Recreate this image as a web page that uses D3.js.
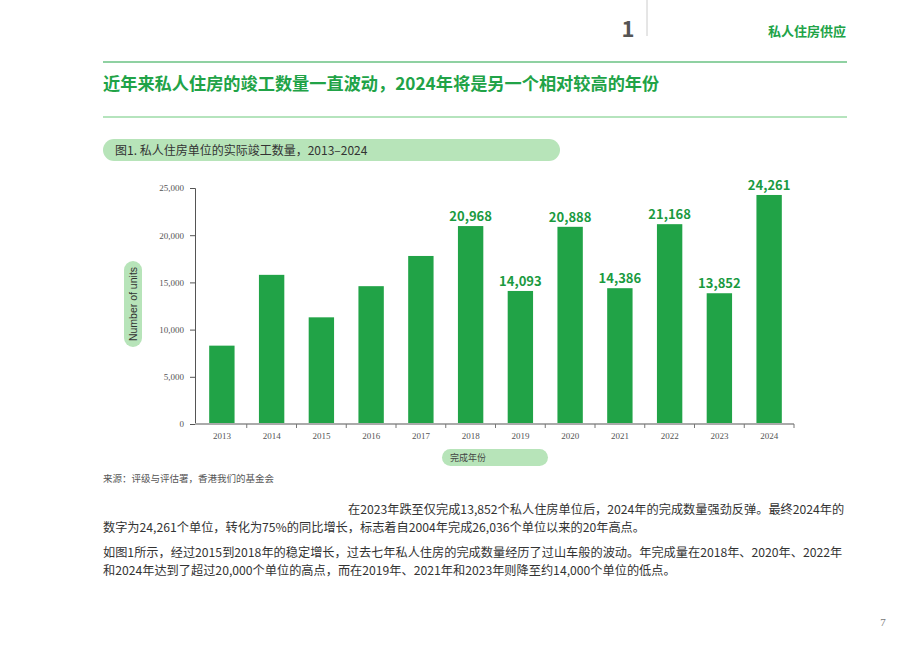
<!DOCTYPE html>
<html>
<head>
<meta charset="utf-8">
<script src="https://cdn.jsdelivr.net/npm/d3@7"></script>
<style>
  body { margin: 0; background: #fff; }
  svg { display: block; }
</style>
</head>
<body>
<script>
var years = ["2013","2014","2015","2016","2017","2018","2019","2020","2021","2022","2023","2024"];
var units = [8300, 15800, 11300, 14600, 17800, 20968, 14093, 20888, 14386, 21168, 13852, 24261];
var labelled = ["2018","2019","2020","2021","2022","2023","2024"];
var yTicks = [0, 5000, 10000, 15000, 20000, 25000];

var green = "#21a347";
var pill = "#b7e4b9";
var cjk = "'Noto Sans CJK SC', 'Noto Sans', sans-serif";
var serif = "'Liberation Serif', 'DejaVu Serif', serif";

var svg = d3.select("body").append("svg")
    .attr("width", 920)
    .attr("height", 648);

// page header
svg.append("line").attr("x1", 647).attr("x2", 647).attr("y1", 0).attr("y2", 36)
    .attr("stroke", "#ccc").attr("stroke-width", 1);
svg.append("text").attr("x", 628).attr("y", 37).attr("text-anchor", "middle")
    .attr("font-family", cjk).attr("font-weight", "bold").attr("font-size", 22)
    .attr("fill", "#555").text("1");
svg.append("text").attr("x", 846).attr("y", 36).attr("text-anchor", "end")
    .attr("font-family", cjk).attr("font-weight", "bold").attr("font-size", 13)
    .attr("fill", green).text("私人住房供应");

svg.append("line").attr("x1", 103).attr("x2", 847).attr("y1", 62).attr("y2", 62)
    .attr("stroke", green).attr("stroke-width", 1.2);
svg.append("text").attr("x", 103).attr("y", 90)
    .attr("font-family", cjk).attr("font-weight", "bold").attr("font-size", 17.2)
    .attr("fill", green).text("近年来私人住房的竣工数量一直波动，2024年将是另一个相对较高的年份");
svg.append("line").attr("x1", 103).attr("x2", 847).attr("y1", 117).attr("y2", 117)
    .attr("stroke", "#6cc97c").attr("stroke-width", 1.2);

// figure title pill
svg.append("rect").attr("x", 103).attr("y", 139).attr("width", 457).attr("height", 22)
    .attr("rx", 11).attr("fill", pill);
svg.append("text").attr("x", 115).attr("y", 155)
    .attr("font-family", cjk).attr("font-size", 12).attr("fill", "#333")
    .text("图1. 私人住房单位的实际竣工数量，2013–2024");

// chart
var x = d3.scaleBand().domain(years).range([197, 794]).paddingInner(0.49).paddingOuter(0.245);
var y = d3.scaleLinear().domain([0, 25000]).range([424, 188]);

var yAxis = svg.append("g").attr("transform", "translate(195,0)")
    .call(d3.axisLeft(y).tickValues(yTicks).tickFormat(d3.format(",")).tickSize(5).tickPadding(6));
yAxis.select(".domain").attr("stroke", "#555");
yAxis.selectAll(".tick line").attr("stroke", "#555");
yAxis.selectAll("text").attr("font-family", serif).attr("font-size", 9).attr("fill", "#555");

svg.selectAll("rect.bar")
    .data(units)
    .enter()
    .append("rect")
    .attr("class", "bar")
    .attr("x", function(d, i){ return x(years[i]); })
    .attr("y", function(d){ return y(d); })
    .attr("width", x.bandwidth())
    .attr("height", function(d){ return y(0) - y(d); })
    .attr("fill", green);

svg.selectAll("text.val")
    .data(units.filter(function(d, i){ return labelled.indexOf(years[i]) >= 0; }))
    .enter()
    .append("text")
    .attr("class", "val")
    .attr("x", function(d){ return x(years[units.indexOf(d)]) + x.bandwidth() / 2; })
    .attr("y", function(d){ return y(d) - 5; })
    .attr("text-anchor", "middle")
    .attr("font-family", cjk).attr("font-weight", "bold").attr("font-size", 13)
    .attr("fill", "#1a9a3f")
    .text(function(d){ return d3.format(",")(d); });

// x axis: ticks sit between categories
var xAxis = svg.append("g").attr("transform", "translate(0,424)");
xAxis.append("line").attr("x1", 195).attr("x2", 794).attr("y1", 0).attr("y2", 0)
    .attr("stroke", "#aaa").attr("stroke-width", 2);
xAxis.selectAll("line.sep")
    .data(years)
    .enter()
    .append("line")
    .attr("class", "sep")
    .attr("x1", function(d){ return x(d) + x.bandwidth() / 2 + x.step() / 2; })
    .attr("x2", function(d){ return x(d) + x.bandwidth() / 2 + x.step() / 2; })
    .attr("y1", 0).attr("y2", 4)
    .attr("stroke", "#777");
xAxis.selectAll("text")
    .data(years)
    .enter()
    .append("text")
    .attr("x", function(d){ return x(d) + x.bandwidth() / 2; })
    .attr("y", 15)
    .attr("text-anchor", "middle")
    .attr("font-family", serif).attr("font-size", 9).attr("fill", "#555")
    .text(function(d){ return d; });

// axis title pills
svg.append("rect").attr("x", 124).attr("y", 261).attr("width", 18).attr("height", 86)
    .attr("rx", 9).attr("fill", pill);
svg.append("text").attr("transform", "translate(137,304) rotate(-90)")
    .attr("text-anchor", "middle")
    .attr("font-family", "'Liberation Sans', Arial, sans-serif").attr("font-size", 10.5)
    .attr("fill", "#333").text("Number of units");

svg.append("rect").attr("x", 442).attr("y", 449).attr("width", 106).attr("height", 17)
    .attr("rx", 8.5).attr("fill", pill);
svg.append("text").attr("x", 450).attr("y", 461)
    .attr("font-family", cjk).attr("font-size", 9).attr("fill", "#444").text("完成年份");

svg.append("text").attr("x", 103).attr("y", 482)
    .attr("font-family", cjk).attr("font-size", 9.5).attr("fill", "#555")
    .text("来源：评级与评估署，香港我们的基金会");

// body text
var para = [
  {x: 348, y: 514, t: "在2023年跌至仅完成13,852个私人住房单位后，2024年的完成数量强劲反弹。最终2024年的"},
  {x: 103, y: 532, t: "数字为24,261个单位，转化为75%的同比增长，标志着自2004年完成26,036个单位以来的20年高点。"},
  {x: 103, y: 557, t: "如图1所示，经过2015到2018年的稳定增长，过去七年私人住房的完成数量经历了过山车般的波动。年完成量在2018年、2020年、2022年"},
  {x: 103, y: 575, t: "和2024年达到了超过20,000个单位的高点，而在2019年、2021年和2023年则降至约14,000个单位的低点。"}
];
svg.selectAll("text.para")
    .data(para)
    .enter()
    .append("text")
    .attr("class", "para")
    .attr("x", function(d){ return d.x; })
    .attr("y", function(d){ return d.y; })
    .attr("font-family", cjk).attr("font-size", 12.2).attr("fill", "#333")
    .text(function(d){ return d.t; });

svg.append("text").attr("x", 883).attr("y", 626).attr("text-anchor", "middle")
    .attr("font-family", serif).attr("font-size", 11).attr("fill", "#777").text("7");
</script>
</body>
</html>
